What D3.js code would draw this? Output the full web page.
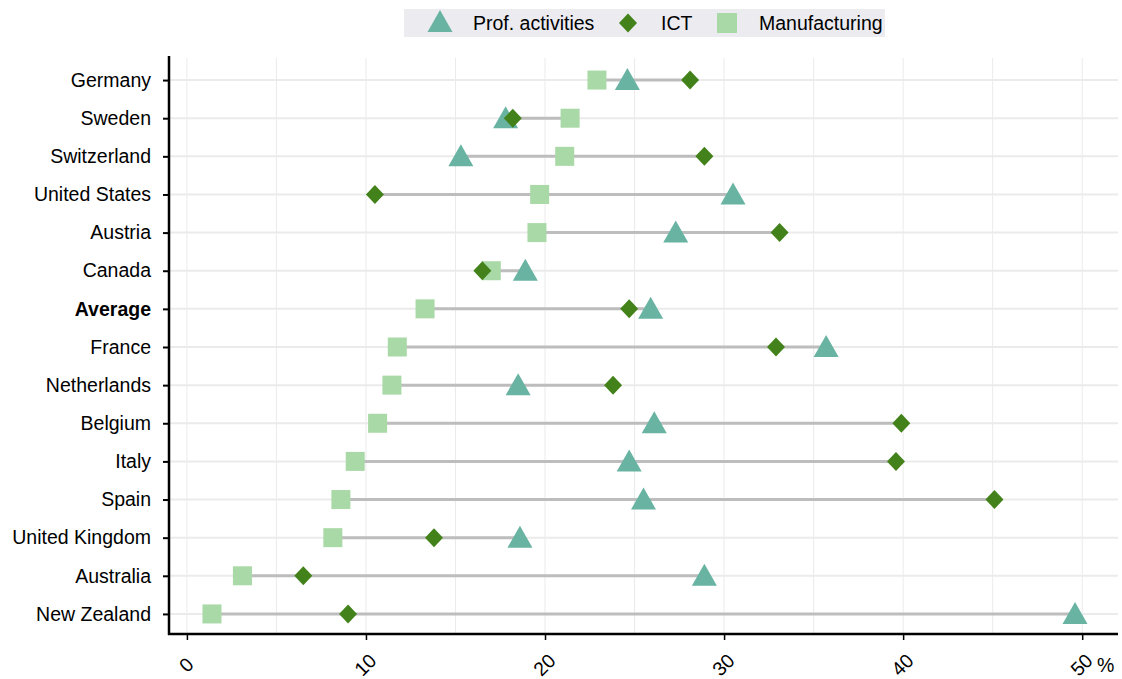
<!DOCTYPE html>
<html><head><meta charset="utf-8">
<script src="https://cdn.jsdelivr.net/npm/d3@7"></script>
<style>body{margin:0;background:#fff;font-family:"Liberation Sans",Arial,sans-serif;}</style>
</head><body><svg id="c" width="1122" height="679"></svg>
<script>
const countries = ["Germany","Sweden","Switzerland","United States","Austria","Canada","Average","France","Netherlands","Belgium","Italy","Spain","United Kingdom","Australia","New Zealand"];
const profActivities = [24.6,17.8,15.3,30.5,27.3,18.9,25.9,35.7,18.5,26.1,24.7,25.5,18.6,28.9,49.6];
const ict = [28.1,18.2,28.9,10.5,33.1,16.5,24.7,32.9,23.8,39.9,39.6,45.1,13.8,6.5,9.0];
const manufacturing = [22.9,21.4,21.1,19.7,19.55,17.0,13.3,11.75,11.45,10.65,9.4,8.6,8.15,3.1,1.4];
const xTicks = [0,10,20,30,40,50];
const seriesNames = ["Prof. activities","ICT","Manufacturing"];

const FS = 19.5;
const colTri = "#69b3a2", colDia = "#43821a", colSq = "#a9d9a6";
const svg = d3.select("#c");
const x = d3.scaleLinear().domain([-1,52]).range([169,1118]);
const y = d3.scalePoint().domain(countries).range([61,633]).padding(0.5);

// grid
const g = svg.append("g");
g.selectAll(".vg").data(d3.range(0,55,5)).join("line")
  .attr("x1",d=>x(d)).attr("x2",d=>x(d)).attr("y1",58).attr("y2",634)
  .attr("stroke","#ebebeb").attr("stroke-width",1);
g.selectAll(".hg").data(countries).join("line")
  .attr("x1",169).attr("x2",1118).attr("y1",d=>y(d)).attr("y2",d=>y(d))
  .attr("stroke","#ebebeb").attr("stroke-width",2);

// connecting lines
const rows = countries.map((c,i)=>({c, p:profActivities[i], t:ict[i], m:manufacturing[i]}));
svg.selectAll(".rng").data(rows).join("line")
  .attr("x1",d=>x(Math.min(d.p,d.t,d.m))).attr("x2",d=>x(Math.max(d.p,d.t,d.m)))
  .attr("y1",d=>y(d.c)).attr("y2",d=>y(d.c))
  .attr("stroke","#bdbdbd").attr("stroke-width",3);

// markers
const tri = "M0,-12L12.5,10L-12.5,10Z";
const dia = "M0,-9.5L9,0L0,9.5L-9,0Z";
svg.selectAll(".tri").data(rows).join("path")
  .attr("d",tri).attr("fill",colTri)
  .attr("transform",d=>`translate(${x(d.p)},${y(d.c)})`);
svg.selectAll(".sq").data(rows).join("rect")
  .attr("x",d=>x(d.m)-9.5).attr("y",d=>y(d.c)-9.5).attr("width",19).attr("height",19).attr("fill",colSq);
svg.selectAll(".dia").data(rows).join("path")
  .attr("d",dia).attr("fill",colDia)
  .attr("transform",d=>`translate(${x(d.t)},${y(d.c)})`);

// axes
const ya = svg.append("g").attr("transform","translate(169,0)")
  .call(d3.axisLeft(y).tickSize(6).tickPadding(12));
ya.select(".domain").remove();
ya.selectAll(".tick line").attr("stroke","#000").attr("stroke-width",2);
ya.selectAll(".tick text").attr("font-size",FS).attr("fill","#000")
  .attr("font-family","Liberation Sans, Arial, sans-serif")
  .attr("font-weight",d=>d==="Average"?"bold":"normal");
svg.append("line").attr("x1",169).attr("x2",169).attr("y1",56).attr("y2",635).attr("stroke","#000").attr("stroke-width",2.5);

const xa = svg.append("g").attr("transform","translate(0,634)")
  .call(d3.axisBottom(x).tickValues(xTicks).tickSize(6).tickFormat(d3.format("d")));
xa.select(".domain").remove();
xa.selectAll(".tick line").attr("stroke","#000").attr("stroke-width",1.5);
xa.selectAll(".tick text").attr("font-size",FS).attr("fill","#000")
  .attr("font-family","Liberation Sans, Arial, sans-serif")
  .attr("text-anchor","middle").attr("dy",null).attr("y",0)
  .attr("transform","translate(0,32) rotate(-45)").attr("dominant-baseline","middle");
svg.append("line").attr("x1",168).attr("x2",1118).attr("y1",634).attr("y2",634).attr("stroke","#000").attr("stroke-width",2.5);
svg.append("text").attr("x",1097).attr("y",672).attr("font-size",FS).text("%");

// legend
const lg = svg.append("g");
lg.append("rect").attr("x",404).attr("y",9).attr("width",481).attr("height",28).attr("fill","#ebebf0");
lg.append("path").attr("d",tri).attr("fill",colTri).attr("transform","translate(440,22)");
lg.append("text").attr("x",473).attr("y",30).attr("font-size",FS).text(seriesNames[0]);
lg.append("path").attr("d",dia).attr("fill",colDia).attr("transform","translate(628,23)");
lg.append("text").attr("x",661).attr("y",30).attr("font-size",FS).text(seriesNames[1]);
lg.append("rect").attr("x",717).attr("y",13).attr("width",20).attr("height",20).attr("fill",colSq);
lg.append("text").attr("x",759).attr("y",30).attr("font-size",FS).text(seriesNames[2]);
</script></body></html>
